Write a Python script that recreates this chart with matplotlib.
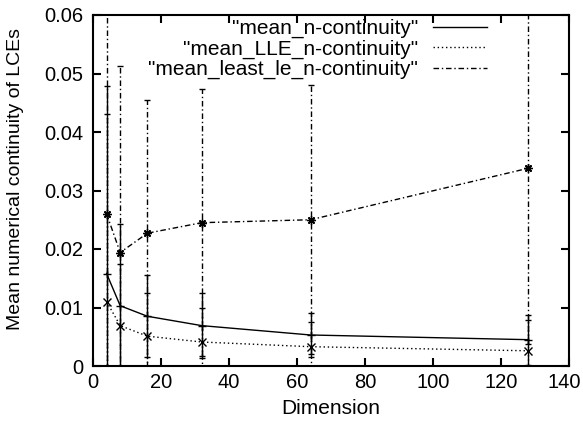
import matplotlib
matplotlib.use("Agg")
import matplotlib.pyplot as plt
import matplotlib.transforms as mtransforms

plt.rcParams['font.family'] = ['Liberation Sans', 'DejaVu Sans']

dims = [4, 8, 16, 32, 64, 128]

mean_n = [0.0158, 0.0103, 0.0085, 0.0069, 0.0053, 0.0045]
mean_n_err = [0.032, 0.014, 0.0070, 0.0056, 0.0037, 0.0043]

mean_lle = [0.0110, 0.0069, 0.0051, 0.0041, 0.0033, 0.0026]
mean_lle_err = [0.032, 0.0105, 0.0074, 0.0058, 0.0042, 0.0052]

mean_least = [0.0260, 0.0194, 0.0227, 0.0245, 0.0250, 0.0338]
mean_least_err = [0.040, 0.0319, 0.0228, 0.0228, 0.0230, 0.030]

labels = ['"mean_n-continuity"', '"mean_LLE_n-continuity"', '"mean_least_le_n-continuity"']

xticks = [0, 20, 40, 60, 80, 100, 120, 140]
yticks = [0, 0.01, 0.02, 0.03, 0.04, 0.05, 0.06]
yticklabels = ['0', '0.01', '0.02', '0.03', '0.04', '0.05', '0.06']

fig = plt.figure(figsize=(5.83, 4.22), dpi=100)
ax = fig.add_axes([93/583, 56/422, (569-93)/583, (366-15)/422])

dotted = (0, (1, 2))
dashdot = (0, (4, 2, 1, 2))

series = [
    (mean_n, mean_n_err, '-', '+', labels[0]),
    (mean_lle, mean_lle_err, dotted, 'x', labels[1]),
    (mean_least, mean_least_err, dashdot, (8, 2, 0), labels[2]),
]

handles = []
for vals, errs, ls, mk, lab in series:
    eb = ax.errorbar(dims, vals, yerr=errs, color='black', linestyle=ls, lw=1.0,
                     marker=mk, markersize=6, mew=1.0, capsize=2.5, elinewidth=1.0)
    for b in eb[2]:
        b.set_linestyle(ls)
    h, = ax.plot([], [], color='black', linestyle=ls, lw=1.0, label=lab)
    handles.append(h)

ax.set_xlim(0, 140)
ax.set_ylim(0, 0.06)
ax.set_xticks(xticks)
ax.set_yticks(yticks)
ax.set_yticklabels(yticklabels)
ax.tick_params(direction='in', top=True, right=True, length=6, width=1.5, labelsize=14.5, pad=5)
ax.tick_params(axis='y', pad=7)
for s in ax.spines.values():
    s.set_linewidth(1.5)

# nudge the last x tick label so it stays inside the figure
last = ax.get_xticklabels()[-1]
last.set_transform(last.get_transform() + mtransforms.ScaledTranslation(-5/100, 0, fig.dpi_scale_trans))

ax.set_xlabel('Dimension', fontsize=15, labelpad=5)
ax.set_ylabel('Mean numerical continuity of LCEs', fontsize=14)
ax.yaxis.set_label_coords(-0.145, 0.533)

leg = ax.legend(handles=handles, loc='upper right', frameon=False, markerfirst=False,
                fontsize=15, handlelength=2.6, handletextpad=0.7, labelspacing=0.06,
                borderpad=0, borderaxespad=0,
                bbox_to_anchor=(487/583, 1 - 19/422), bbox_transform=fig.transFigure)
for t in leg.get_texts():
    t.set_ha('right')

fig.savefig('out.png', dpi=100)
